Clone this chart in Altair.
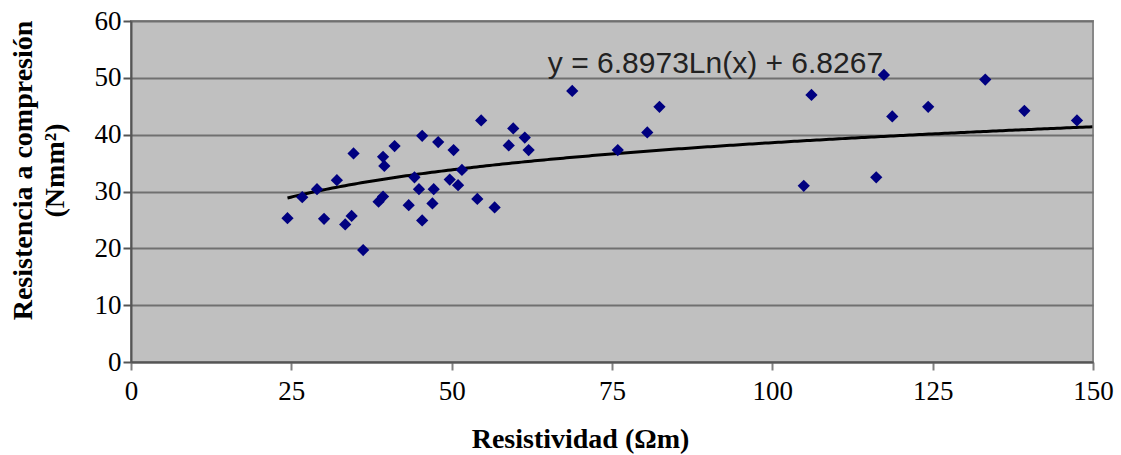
import altair as alt
import pandas as pd

# Resistividad (Ωm) vs. resistencia a compresión
resistividad = [24.4, 26.7, 29.0, 30.1, 32.1, 34.7, 33.4, 34.4, 36.2, 39.3,
                39.5, 41.1, 38.6, 39.3, 43.3, 44.2, 44.9, 45.4, 45.4, 47.0,
                47.2, 47.9, 50.3, 49.7, 51.0, 51.6, 54.0, 56.7, 54.6, 59.6,
                61.4, 58.9, 62.0, 68.8, 75.9, 80.5, 82.4, 104.9, 106.1, 116.2,
                117.4, 118.7, 124.3, 133.2, 139.3, 147.5]
resistencia = [25.3, 29.0, 30.4, 25.2, 32.0, 36.7, 24.2, 25.7, 19.7, 36.1,
               34.5, 38.0, 28.2, 29.1, 27.6, 32.5, 30.4, 39.8, 24.9, 27.9,
               30.4, 38.7, 37.3, 32.1, 31.1, 33.8, 28.7, 27.2, 42.5, 41.1,
               39.5, 38.1, 37.3, 47.7, 37.3, 40.4, 44.9, 31.0, 47.0, 32.5,
               50.5, 43.2, 44.9, 49.7, 44.2, 42.5]

# logarithmic trend: y = a*ln(x) + b
coef_a = 6.8973
coef_b = 6.8267
trend_start = 24.4
trend_end = 150.0
equation = "y = 6.8973Ln(x) + 6.8267"
equation_pos = (65.0, 50.85)

x_ticks = [0, 25, 50, 75, 100, 125, 150]
y_ticks = [0, 10, 20, 30, 40, 50, 60]

points = pd.DataFrame({"x": resistividad, "y": resistencia})

x_scale = alt.Scale(domain=[0, 150], nice=False, zero=False)
y_scale = alt.Scale(domain=[0, 60], nice=False)

x_axis = alt.Axis(values=x_ticks, title="Resistividad (Ωm)", grid=False,
                  labelFont="Liberation Serif", labelFontSize=27, labelColor="#000000",
                  labelPadding=8, labelFlush=False, tickSize=8, tickColor="#808080", tickWidth=2,
                  domainColor="#555555", domainWidth=2,
                  titleFont="Liberation Serif", titleFontSize=28, titleFontWeight="bold",
                  titleColor="#000000", titleX=449, titleY=85,
                  titleAnchor="start", titleAlign="center", titleBaseline="alphabetic")

y_axis = alt.Axis(values=y_ticks, title=["Resistencia a compresión", "(Nmm²)"],
                  grid=True, gridColor="#707070", gridWidth=2,
                  labelFont="Liberation Serif", labelFontSize=27, labelColor="#000000",
                  labelPadding=2, labelFlush=False, tickSize=8, tickColor="#555555", tickWidth=2,
                  domainColor="#555555", domainWidth=2,
                  titleFont="Liberation Serif", titleFontSize=28, titleFontWeight="bold",
                  titleColor="#000000", titleAngle=-90, titleLineHeight=32,
                  titleX=-108, titleY=149, titleAlign="center", titleBaseline="middle")

scatter = alt.Chart(points).mark_point(
    shape="diamond", filled=True, color="#000080", size=150, opacity=1
).encode(
    x=alt.X("x:Q", scale=x_scale, axis=x_axis),
    y=alt.Y("y:Q", scale=y_scale, axis=y_axis),
)

trend = alt.Chart(alt.sequence(trend_start, trend_end + 0.01, 0.5, as_="x")).transform_calculate(
    y=f"{coef_a} * log(datum.x) + {coef_b}"
).mark_line(color="#000000", strokeWidth=3).encode(
    x=alt.X("x:Q", scale=x_scale),
    y=alt.Y("y:Q", scale=y_scale),
)

label = alt.Chart(pd.DataFrame({"x": [equation_pos[0]], "y": [equation_pos[1]], "t": [equation]})).mark_text(
    font="Liberation Sans", fontSize=30, color="#222222", align="left", baseline="alphabetic"
).encode(
    x=alt.X("x:Q", scale=x_scale),
    y=alt.Y("y:Q", scale=y_scale),
    text="t:N",
)

chart = alt.layer(trend, scatter, label).properties(
    width=962, height=341,
    autosize=alt.AutoSizeParams(type="none"),
    padding={"left": 131, "top": 21, "right": 28, "bottom": 93},
    background="white",
).configure_view(
    fill="#C0C0C0", stroke="#888888", strokeWidth=2
)

chart.save("out.html", embed_options={"renderer": "svg", "actions": False})
